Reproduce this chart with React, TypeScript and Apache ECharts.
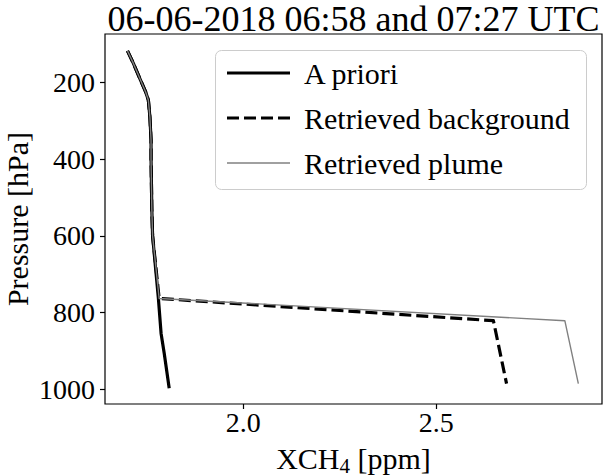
import React, { useEffect, useRef } from "react";
import * as echarts from "echarts";

// Pressure levels [hPa] and XCH4 values [ppm]
const pressureApriori = [118, 150, 190, 225, 246, 290, 350, 400, 530, 600, 763, 854, 905, 997];
const xchApriori = [1.7, 1.715, 1.732, 1.747, 1.754, 1.758, 1.761, 1.761, 1.763, 1.765, 1.78, 1.787, 1.795, 1.808];
const pressureRetrieved = [118, 150, 190, 225, 246, 290, 350, 400, 530, 600, 763, 821, 985];
const xchBackground = [1.7, 1.715, 1.732, 1.747, 1.754, 1.758, 1.761, 1.761, 1.763, 1.765, 1.782, 2.648, 2.682];
const xchPlume = [1.7, 1.715, 1.732, 1.747, 1.754, 1.758, 1.761, 1.761, 1.763, 1.765, 1.782, 2.833, 2.868];
const xTicks = [2.0, 2.5];
const yTicks = [200, 400, 600, 800, 1000];
const seriesNames = ["A priori", "Retrieved background", "Retrieved plume"];
const titleText = "06-06-2018 06:58 and 07:27 UTC";

const FONT = "Liberation Serif";

const pairs = (xs: number[], ps: number[]) => xs.map((x, i) => [x, ps[i]]);

export default function App() {
  const ref = useRef<HTMLDivElement>(null);
  useEffect(() => {
    if (!ref.current) return;
    const chart = echarts.init(ref.current, undefined, { renderer: "svg" });
    const legendRows = [73, 118, 163];
    const legendStyles = [
      { stroke: "#000", lineWidth: 3.2 },
      { stroke: "#000", lineWidth: 3.2, lineDash: [12, 5] },
      { stroke: "#808080", lineWidth: 1.4 },
    ];
    const graphic: any[] = [
      {
        type: "rect",
        shape: { x: 215.5, y: 50.5, width: 371, height: 139, r: 6 },
        style: { fill: "rgba(255,255,255,0.8)", stroke: "#cccccc", lineWidth: 1 },
        z: 10,
      },
    ];
    legendRows.forEach((y, i) => {
      graphic.push({
        type: "line",
        shape: { x1: 227, y1: y, x2: 290, y2: y },
        style: legendStyles[i],
        z: 11,
      });
      graphic.push({
        type: "text",
        x: 304,
        y: y,
        style: {
          text: seriesNames[i],
          fontSize: 30,
          fontFamily: FONT,
          fontWeight: "normal",
          fontStyle: "normal",
          fill: "#000",
          align: "left",
          verticalAlign: "middle",
        },
        z: 11,
      });
    });

    chart.setOption({
      animation: false,
      backgroundColor: "#fff",
      textStyle: { fontFamily: FONT, color: "#000" },
      title: {
        text: titleText,
        left: 353.5,
        textAlign: "center",
        top: 1,
        padding: 0,
        textStyle: { fontSize: 36, fontFamily: FONT, fontWeight: "normal", color: "#000" },
      },
      grid: {
        left: 105,
        right: 1,
        top: 34,
        bottom: 72,
        show: true,
        containLabel: false,
        outerBoundsMode: "none",
        borderColor: "#000",
        borderWidth: 1.2,
        backgroundColor: "transparent",
      },
      xAxis: {
        type: "value",
        min: 1.6417,
        max: 2.9293,
        name: "{a|XCH}{s|4}{a| [ppm]}",
        nameLocation: "middle",
        nameGap: 36,
        nameTextStyle: {
          fontFamily: FONT,
          color: "#000",
          rich: {
            a: { fontSize: 30, fontFamily: FONT, color: "#000", lineHeight: 36 },
            s: { fontSize: 21, fontFamily: FONT, color: "#000", lineHeight: 26, verticalAlign: "bottom" },
          },
        },
        axisLine: { show: false },
        splitLine: { show: false },
        axisTick: { show: true, length: 5, inside: false, customValues: xTicks, lineStyle: { color: "#000", width: 1.2 } },
        axisLabel: {
          customValues: xTicks,
          margin: 4,
          fontSize: 28,
          fontFamily: FONT,
          color: "#000",
          formatter: (v: number) => v.toFixed(1),
        },
      },
      yAxis: {
        type: "value",
        inverse: true,
        min: 74,
        max: 1038,
        name: "Pressure [hPa]",
        nameLocation: "middle",
        nameGap: 76,
        nameMoveOverlap: false,
        nameRotate: 90,
        nameTextStyle: { fontSize: 30, fontFamily: FONT, color: "#000", lineHeight: 24 },
        axisLine: { show: false },
        splitLine: { show: false },
        axisTick: { show: true, length: 5, inside: false, customValues: yTicks, lineStyle: { color: "#000", width: 1.2 } },
        axisLabel: {
          customValues: yTicks,
          margin: 10,
          fontSize: 28,
          fontFamily: FONT,
          color: "#000",
          formatter: (v: number) => String(v),
        },
      },
      graphic,
      series: [
        {
          name: seriesNames[0],
          type: "line",
          data: pairs(xchApriori, pressureApriori),
          showSymbol: false,
          symbol: "none",
          lineStyle: { color: "#000", width: 3.2, join: "round", cap: "butt" },
          z: 2,
        },
        {
          name: seriesNames[1],
          type: "line",
          data: pairs(xchBackground, pressureRetrieved),
          showSymbol: false,
          symbol: "none",
          lineStyle: { color: "#000", width: 3.2, type: [12, 5], join: "round", cap: "butt" },
          z: 3,
        },
        {
          name: seriesNames[2],
          type: "line",
          data: pairs(xchPlume, pressureRetrieved),
          showSymbol: false,
          symbol: "none",
          lineStyle: { color: "#808080", width: 1.4, join: "round" },
          z: 4,
        },
      ],
    });
    return () => chart.dispose();
  }, []);
  return (
    <div
      ref={ref}
      style={{ position: "fixed", left: 0, top: 0, width: 603, height: 476, background: "#fff" }}
    />
  );
}
